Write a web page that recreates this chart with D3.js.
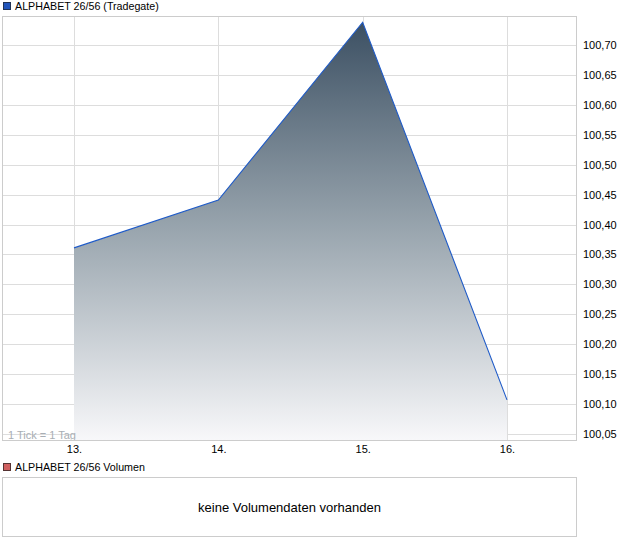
<!DOCTYPE html>
<html><head><meta charset="utf-8">
<script src="https://cdn.jsdelivr.net/npm/d3@7"></script>
<style>body{margin:0;background:#fff}svg{display:block;font-family:"Liberation Sans",Arial,sans-serif}</style>
</head><body><svg id="c" width="620" height="546"></svg>
<script>
const days = [13, 14, 15, 16];
const dayLabels = ["13.", "14.", "15.", "16."];
const prices = [100.361, 100.441, 100.738, 100.107];
const yTicks = [100.05,100.10,100.15,100.20,100.25,100.30,100.35,100.40,100.45,100.50,100.55,100.60,100.65,100.70];
const seriesName = "ALPHABET 26/56 (Tradegate)";
const volumeName = "ALPHABET 26/56 Volumen";
const noVolumeText = "keine Volumendaten vorhanden";

const svg = d3.select("#c");
const L = 2, R = 577, T = 16, B = 441;
const x = d3.scaleLinear().domain([13, 16]).range([74, 507]);
const y = d3.scaleLinear().domain([100.05, 100.70]).range([434, 45]);

const defs = svg.append("defs");
const g = defs.append("linearGradient").attr("id","gr")
  .attr("gradientUnits","userSpaceOnUse").attr("y1", y(d3.max(prices))).attr("y2", B).attr("x1",0).attr("x2",0);
g.append("stop").attr("offset","0").attr("stop-color","#3c5063");
g.append("stop").attr("offset","0.5").attr("stop-color","#9aa6af");
g.append("stop").attr("offset","1").attr("stop-color","#f8f8fa");
defs.append("clipPath").attr("id","clip").append("rect").attr("x",L).attr("y",T).attr("width",R-L).attr("height",B-T);

// legend
svg.append("rect").attr("x",3.5).attr("y",2.5).attr("width",7).attr("height",7).attr("fill","#2255bb").attr("stroke","#223355");
svg.append("text").attr("x",15).attr("y",10).attr("font-size",10.7).attr("fill","#000").text(seriesName);

// grid
const grid = svg.append("g");
grid.selectAll("line.h").data(yTicks).join("line").attr("x1",L).attr("x2",R)
  .attr("y1",d=>Math.round(y(d))+0.5).attr("y2",d=>Math.round(y(d))+0.5).attr("stroke","#dddddd");
grid.selectAll("line.v").data(days).join("line").attr("y1",T).attr("y2",B)
  .attr("x1",d=>Math.round(x(d))+0.5).attr("x2",d=>Math.round(x(d))+0.5).attr("stroke","#dddddd");

// area
const data = days.map((d,i)=>({d, v:prices[i]}));
const plot = svg.append("g").attr("clip-path","url(#clip)");
plot.append("path").datum(data)
  .attr("d", d3.area().x(p=>x(p.d)).y0(B).y1(p=>y(p.v)))
  .attr("fill","url(#gr)");
plot.append("path").datum(data)
  .attr("d", d3.line().x(p=>x(p.d)).y(p=>y(p.v)))
  .attr("fill","none").attr("stroke","#1f5bc8").attr("stroke-width",1.1);

svg.append("text").attr("x",8).attr("y",439).attr("font-size",11).attr("fill","#a8aeb4").text("1 Tick = 1 Tag");

// frame
svg.append("rect").attr("x",L+0.5).attr("y",T+0.5).attr("width",R-L-1).attr("height",B-T-1)
  .attr("fill","none").attr("stroke","#cccccc");

// axes
const yAxis = d3.axisRight(y).tickValues(yTicks).tickSize(0).tickPadding(6)
  .tickFormat(d=>d3.format(".2f")(d).replace(".",","));
svg.append("g").attr("transform",`translate(${R},0)`).call(yAxis)
  .call(a=>a.select(".domain").remove())
  .call(a=>a.selectAll("text").attr("font-size",11).attr("fill","#000").attr("font-family","Liberation Sans, Arial, sans-serif"));
const xAxis = d3.axisBottom(x).tickValues(days).tickSize(0).tickPadding(4)
  .tickFormat((d,i)=>dayLabels[i]);
svg.append("g").attr("transform",`translate(0,${B})`).call(xAxis)
  .call(a=>a.select(".domain").remove())
  .call(a=>a.selectAll("text").attr("font-size",11).attr("fill","#000").attr("font-family","Liberation Sans, Arial, sans-serif"));

// volume panel
svg.append("rect").attr("x",3.5).attr("y",463.5).attr("width",7).attr("height",7).attr("fill","#d06060").attr("stroke","#553333");
svg.append("text").attr("x",15).attr("y",471).attr("font-size",10.7).attr("fill","#000").text(volumeName);
svg.append("rect").attr("x",2.5).attr("y",477.5).attr("width",R-3).attr("height",59).attr("fill","none").attr("stroke","#cccccc");
svg.append("text").attr("x",(L+R)/2).attr("y",512).attr("text-anchor","middle").attr("font-size",13).attr("fill","#000").text(noVolumeText);
</script></body></html>
